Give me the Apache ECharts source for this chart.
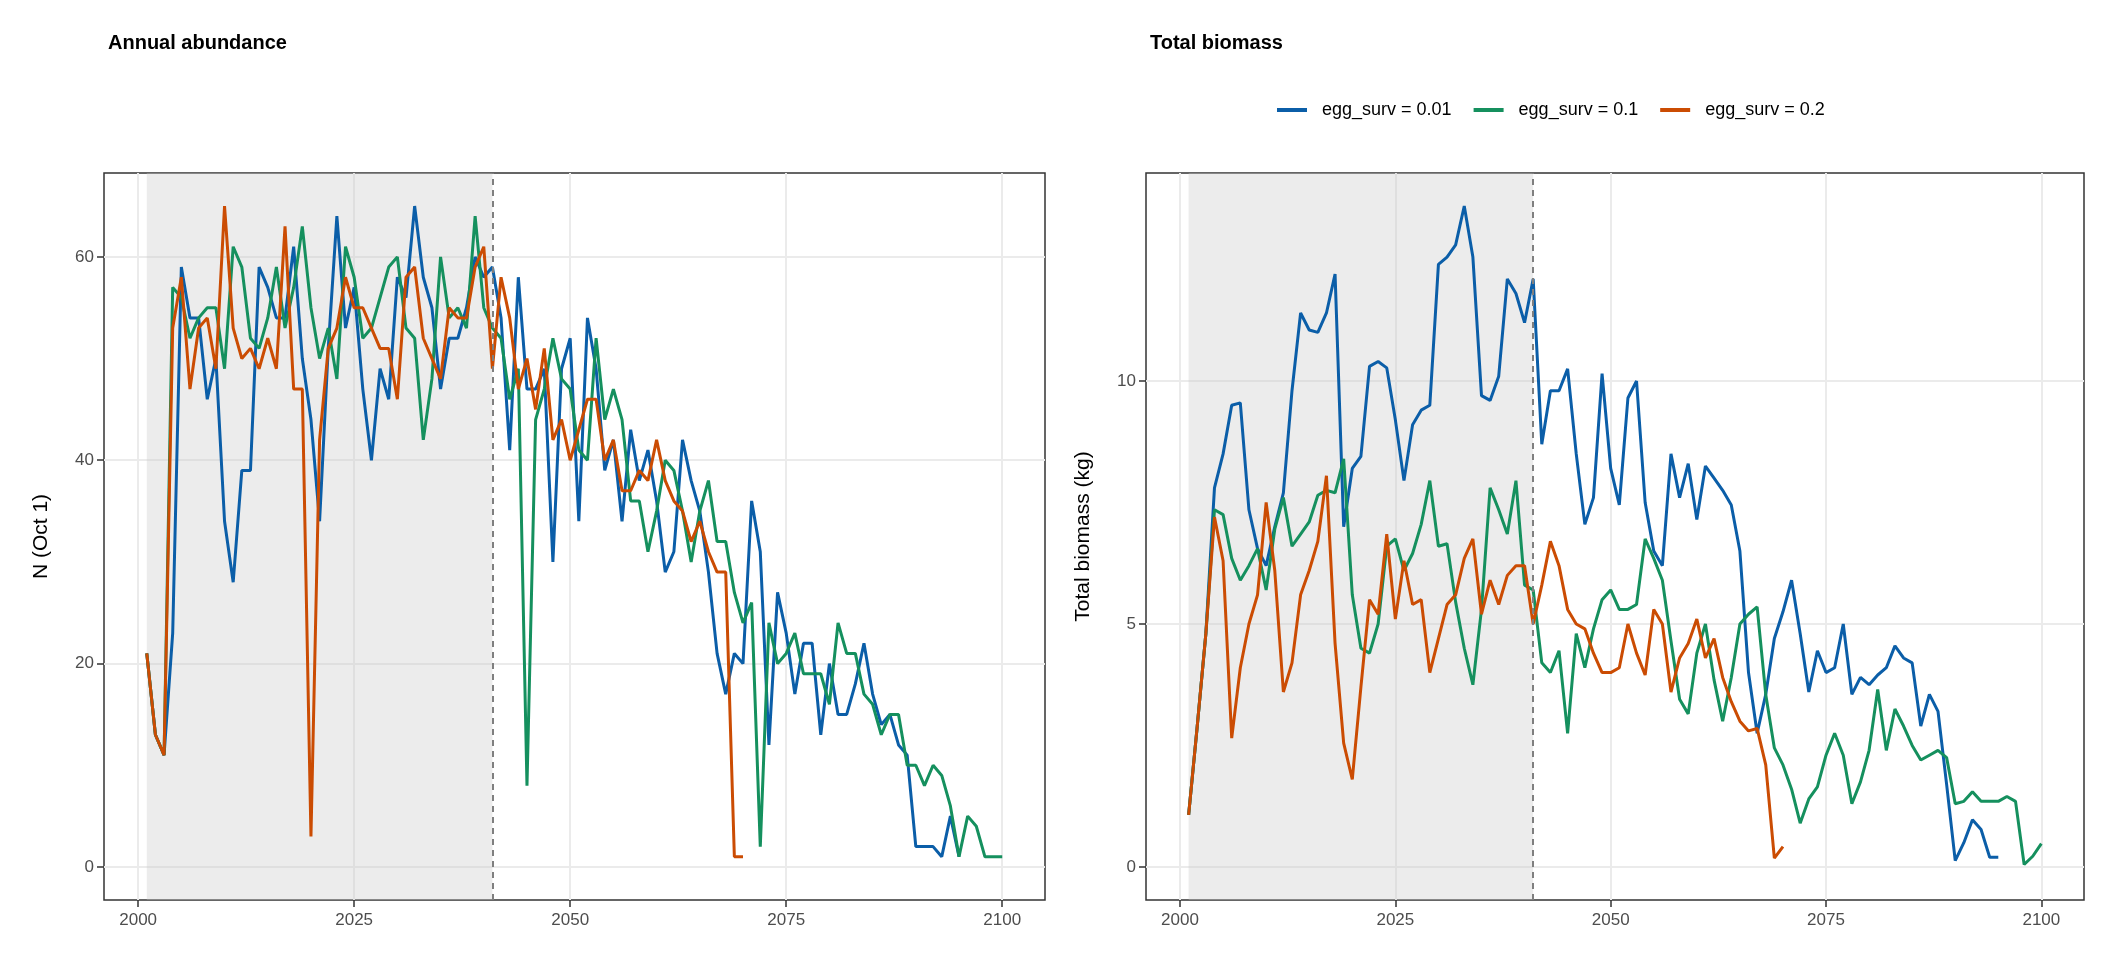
<!DOCTYPE html>
<html lang="en">
<head>
    <meta charset="UTF-8">
    <title>Annual abundance / Total biomass</title>
    <script src="https://cdn.jsdelivr.net/npm/echarts@6.0.0/dist/echarts.min.js"></script>
    <style>
        html, body { margin: 0; padding: 0; background: #fff; }
        #chart { width: 2112px; height: 960px; }
    </style>
</head>
<body>
<div id="chart"></div>
<script>
    // all series start in 2001, one value per year
    var startYear = 2001;
    var seriesNames = ["egg_surv = 0.01", "egg_surv = 0.1", "egg_surv = 0.2"];
    var colors = ["#0B5EA8", "#15905E", "#CB4C03"];
    var xTicks = [2000, 2025, 2050, 2075, 2100];
    var abundTicks = [0, 20, 40, 60];
    var biomassTicks = [0, 5, 10];

    var abund001 = [21,13,11,23,59,54,54,46,50,34,28,39,39,59,57,54,54,61,50,44,34,51,64,53,57,47,40,49,46,58,56,65,58,55,47,52,52,55,60,58,59,
        54,41,58,47,47,49,30,49,52,34,54,49,39,42,34,43,38,41,36,29,31,42,38,35,29,21,17,21,20,36,31,12,27,23,17,22,22,13,20,15,15,18,22,17,14,15,12,11,2,2,2,1,5,1];
    var abund01 = [21,13,11,57,56,52,54,55,55,49,61,59,52,51,54,59,53,57,63,55,50,53,48,61,58,52,53,56,59,60,53,52,42,48,60,54,55,53,64,55,53,
        52,46,49,8,44,47,52,48,47,41,40,52,44,47,44,36,36,31,35,40,39,35,30,35,38,32,32,27,24,26,2,24,20,21,23,19,19,19,16,24,21,21,17,16,13,15,15,10,10,8,10,9,6,1,5,4,1,1,1];
    var abund02 = [21,13,11,53,58,47,53,54,49,65,53,50,51,49,52,49,63,47,47,3,42,51,53,58,55,55,53,51,51,46,58,59,52,50,48,55,54,54,59,61,
        49,58,54,47,50,45,51,42,44,40,43,46,46,40,42,37,37,39,38,42,38,36,35,32,34,31,29,29,1,1];

    var bio001 = [1.07,2.9,4.8,7.8,8.5,9.5,9.55,7.35,6.55,6.2,7.0,7.7,9.8,11.4,11.05,11.0,11.4,12.2,7.0,8.2,8.45,10.3,10.4,10.27,9.2,7.95,9.1,9.4,9.5,12.4,
        12.55,12.8,13.6,12.55,9.7,9.6,10.1,12.1,11.8,11.2,12.1,8.7,9.8,9.8,10.25,8.5,7.05,7.6,10.15,8.2,7.45,9.65,10.0,7.5,6.5,6.2,8.5,7.6,8.3,7.15,
        8.25,8.0,7.75,7.45,6.5,4.0,2.75,3.55,4.7,5.25,5.9,4.8,3.6,4.45,4.0,4.1,5.0,3.55,3.9,3.75,3.95,4.1,4.55,4.3,4.2,2.9,3.55,3.2,1.7,0.13,0.5,0.97,0.77,0.2,0.2];
    var bio01 = [1.07,2.9,4.8,7.35,7.25,6.35,5.9,6.2,6.55,5.7,6.95,7.6,6.6,6.85,7.1,7.65,7.75,7.7,8.4,5.6,4.5,4.4,5.0,6.6,6.75,6.1,6.45,7.05,7.95,6.6,
        6.65,5.45,4.5,3.75,5.3,7.8,7.35,6.85,7.95,5.8,5.7,4.2,4.0,4.45,2.75,4.8,4.1,4.9,5.5,5.7,5.3,5.3,5.4,6.75,6.35,5.9,4.65,3.45,3.15,4.4,
        5.0,3.85,3.0,3.9,5.0,5.2,5.35,3.55,2.45,2.1,1.6,0.9,1.4,1.65,2.3,2.75,2.3,1.3,1.75,2.4,3.65,2.4,3.25,2.9,2.5,2.2,2.3,2.4,2.25,1.3,
        1.35,1.55,1.35,1.35,1.35,1.45,1.35,0.05,0.22,0.48];
    var bio02 = [1.07,2.9,4.8,7.2,6.3,2.65,4.1,5.0,5.6,7.5,6.1,3.6,4.2,5.6,6.1,6.7,8.05,4.6,2.55,1.8,3.7,5.5,5.2,6.85,5.1,6.3,5.4,5.5,4.0,4.7,
        5.4,5.6,6.35,6.75,5.2,5.9,5.4,6.0,6.2,6.2,5.0,5.8,6.7,6.2,5.3,5.0,4.9,4.4,4.0,4.0,4.1,5.0,4.4,3.95,5.3,5.0,3.6,4.3,4.6,5.1,
        4.3,4.7,3.9,3.4,3.0,2.8,2.85,2.1,0.18,0.42];

    var shadeFrom = 2001, shadeTo = 2041;

    function pairs(vals) {
        return vals.map(function (v, i) { return [startYear + i, v]; });
    }

    var font = "Liberation Sans, Arial, sans-serif";
    var gridColor = "#EBEBEB";

    function xAxis(idx) {
        return {
            type: "value", gridIndex: idx, min: 1996.05, max: 2104.95,
            axisLine: { show: false, onZero: false },
            axisTick: { show: true, length: 7, lineStyle: { color: "#333", width: 1.5 }, customValues: xTicks },
            axisLabel: {
                customValues: xTicks, color: "#4D4D4D", fontSize: 17, fontFamily: font, margin: 12,
                formatter: function (v) { return String(v); }
            },
            splitLine: { show: true, lineStyle: { color: gridColor, width: 2 } }
        };
    }
    function yAxis(idx, min, max, ticks, name) {
        return {
            type: "value", gridIndex: idx, min: min, max: max,
            name: name, nameLocation: "middle", nameGap: 52,
            nameTextStyle: { fontSize: 21, color: "#000", fontFamily: font },
            axisLine: { show: false, onZero: false },
            axisTick: { show: true, length: 7, lineStyle: { color: "#333", width: 1.5 }, customValues: ticks },
            axisLabel: { customValues: ticks, color: "#4D4D4D", fontSize: 17, fontFamily: font, margin: 10 },
            splitLine: { show: true, lineStyle: { color: gridColor, width: 2 } }
        };
    }

    function makeSeries(name, vals, idx, color, withMarks) {
        var s = {
            name: name, type: "line", xAxisIndex: idx, yAxisIndex: idx,
            data: pairs(vals), showSymbol: false, symbol: "none",
            lineStyle: { color: color, width: 3 }, itemStyle: { color: color },
            z: 3
        };
        if (withMarks) {
            s.markArea = {
                silent: true, itemStyle: { color: "rgba(200,200,200,0.35)" },
                data: [[{ xAxis: shadeFrom }, { xAxis: shadeTo }]]
            };
            s.markLine = {
                silent: true, symbol: "none", label: { show: false },
                lineStyle: { color: "#7F7F7F", type: [6, 5], width: 2 },
                data: [{ xAxis: shadeTo }]
            };
        }
        return s;
    }

    var option = {
        animation: false,
        color: colors,
        title: [
            { text: "Annual abundance", left: 103, top: 28, textStyle: { fontSize: 20, fontWeight: "bold", fontFamily: font, color: "#000" } },
            { text: "Total biomass", left: 1145, top: 28, textStyle: { fontSize: 20, fontWeight: "bold", fontFamily: font, color: "#000" } }
        ],
        legend: {
            top: 96, left: 1272, itemWidth: 30, itemHeight: 4, itemGap: 22,
            icon: "rect",
            textStyle: { fontSize: 18, fontFamily: font, color: "#000", padding: [0, 0, 0, 10] },
            data: seriesNames
        },
        grid: [
            { left: 104, right: 1067, top: 173, bottom: 60, show: true, borderColor: "#333", borderWidth: 1.5, backgroundColor: "#fff" },
            { left: 1146, right: 28, top: 173, bottom: 60, show: true, borderColor: "#333", borderWidth: 1.5, backgroundColor: "#fff" }
        ],
        xAxis: [xAxis(0), xAxis(1)],
        yAxis: [
            yAxis(0, -3.25, 68.25, abundTicks, "N (Oct 1)"),
            yAxis(1, -0.68, 14.28, biomassTicks, "Total biomass (kg)")
        ],
        series: [
            makeSeries(seriesNames[0], abund001, 0, colors[0], true),
            makeSeries(seriesNames[1], abund01, 0, colors[1], false),
            makeSeries(seriesNames[2], abund02, 0, colors[2], false),
            makeSeries(seriesNames[0], bio001, 1, colors[0], true),
            makeSeries(seriesNames[1], bio01, 1, colors[1], false),
            makeSeries(seriesNames[2], bio02, 1, colors[2], false)
        ]
    };

    var chart = echarts.init(document.getElementById("chart"));
    chart.setOption(option);
</script>
</body>
</html>
